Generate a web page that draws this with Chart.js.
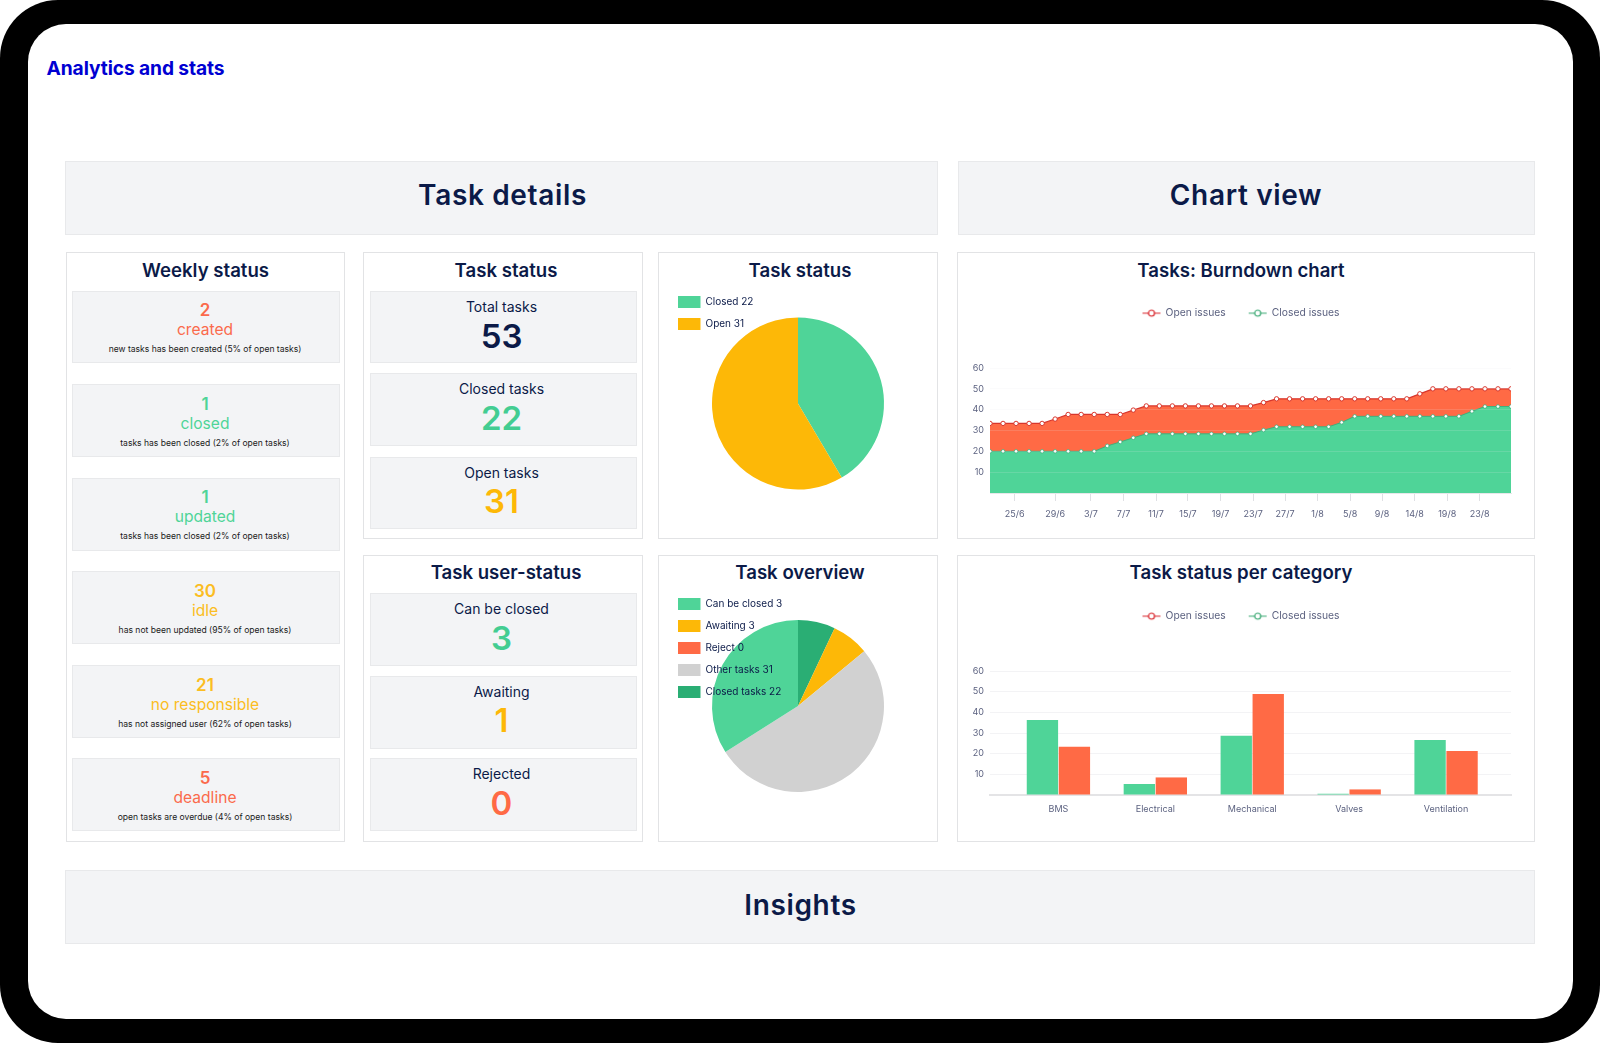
<!DOCTYPE html>
<html><head><meta charset="utf-8">
<script src="https://cdn.jsdelivr.net/npm/chart.js@4"></script>
<style>
html,body{margin:0;padding:0;background:#fff;width:1600px;height:1043px;overflow:hidden}
#frame{position:absolute;left:0;top:0;width:1600px;height:1043px;background:#000;border-radius:58px}
#screen{position:absolute;left:27.5px;top:24px;width:1545px;height:995px;background:#fff;border-radius:38px}
.box{position:absolute;box-sizing:border-box}
.bar{background:#f3f4f6;border:1px solid #e8e9eb}
.panel{background:#fff;border:1.5px solid #e2e3e5}
.card{background:#f3f4f6;border:1px solid #e8e9eb}
.t{position:absolute;white-space:nowrap;transform:translate(-50%,-50%);font-family:Inter,sans-serif;line-height:1}
canvas{position:absolute}
</style></head><body>
<div id="frame"></div><div id="screen"></div>
<div id="root"></div>
<script>
// ---- data ----
const pageTitle = "Analytics and stats";
const sectionTitles = ["Task details", "Chart view", "Insights"];
const weeklyNumbers = ["2", "1", "1", "30", "21", "5"];
const weeklyWords = ["created", "closed", "updated", "idle", "no responsible", "deadline"];
const weeklyNotes = [
  "new tasks has been created (5% of open tasks)",
  "tasks has been closed (2% of open tasks)",
  "tasks has been closed (2% of open tasks)",
  "has not been updated (95% of open tasks)",
  "has not assigned user (62% of open tasks)",
  "open tasks are overdue (4% of open tasks)"];
const statusLabels = ["Total tasks", "Closed tasks", "Open tasks"];
const statusNumbers = ["53", "22", "31"];
const userLabels = ["Can be closed", "Awaiting", "Rejected"];
const userNumbers = ["3", "1", "0"];

const pie1Labels = ["Closed 22", "Open 31"];
const pie1Values = [22, 31];
const pie2Labels = ["Closed tasks 22", "Awaiting 3", "Reject 0", "Other tasks 31", "Can be closed 3"];
const pie2Values = [7, 7, 0, 52, 34];
const pie2LegendOrder = ["Can be closed 3", "Awaiting 3", "Reject 0", "Other tasks 31", "Closed tasks 22"];

const burnOpen = [33.4,33.4,33.4,33.4,33.4,35.5,37.7,37.7,37.7,37.7,37.7,39.8,41.8,41.8,41.8,41.8,41.8,41.8,41.8,41.8,41.8,43.4,45.2,45.2,45.2,45.2,45.2,45.2,45.2,45.2,45.2,45.2,45.2,47.6,50,50,50,50,50,50,50];
const burnClosed = [20,20,20,20,20,20,20,20,20,22.6,24.5,26.5,28.4,28.4,28.4,28.4,28.4,28.4,28.4,28.4,28.4,30.2,31.8,31.8,31.8,31.8,31.8,33.9,36.8,36.8,36.8,36.8,36.8,36.8,36.8,36.8,36.8,39.2,41.5,41.5,41.5];
const burnTickLabels = ["25/6","29/6","3/7","7/7","11/7","15/7","19/7","23/7","27/7","1/8","5/8","9/8","14/8","19/8","23/8"];
const burnTickSteps = [1.9,5,7.75,10.25,12.75,15.2,17.7,20.2,22.65,25.15,27.65,30.1,32.6,35.1,37.6];

const categories = ["BMS","Electrical","Mechanical","Valves","Ventilation"];
const catClosed = [36.3,5.3,28.7,0.6,26.6];
const catOpen = [23.4,8.5,48.9,2.7,21.3];

// ---- colours ----
const GREEN="#4fd498", RED="#ff6a45", YEL="#fdb807", GRAY="#d1d1d1", DKG="#2aae74", NAVY="#0b1a48", AXIS="#5c6280";
const weeklyColors=["#fb6a4c",GREEN,GREEN,"#fbbd22","#fbbd22","#fb6a4c"];
const root=document.getElementById("root");
function box(cls,x,y,x2,y2){const d=document.createElement("div");d.className="box "+cls;d.style.cssText=`left:${x}px;top:${y}px;width:${x2-x}px;height:${y2-y}px`;root.appendChild(d);return d;}
function txt(s,cx,cy,size,weight,color,ls){const d=document.createElement("div");d.className="t";d.textContent=s;d.style.cssText=`left:${cx}px;top:${cy}px;font-size:${size}px;font-weight:${weight};color:${color};letter-spacing:${ls||0}px`;root.appendChild(d);return d;}

// header + section bars
txt(pageTitle,135.5,69,19.2,700,"#0000d2",-0.1);
box("bar",65,160.5,938,234.5); txt(sectionTitles[0],502.5,194.5,28,600,NAVY,0.65);
box("bar",958,160.5,1535,234.5); txt(sectionTitles[1],1246,194.5,28,600,NAVY,0.65);
box("bar",65,870,1535,943.5); txt(sectionTitles[2],800.5,904.5,28,600,NAVY,0.65);

// panels
box("panel",65.5,252,345,842); txt("Weekly status",205.5,269.5,18.6,600,NAVY);
box("panel",363,252,643,539); txt("Task status",506,269.5,18.6,600,NAVY);
box("panel",363,555,643,842); txt("Task user-status",506,572,18.6,600,NAVY);
box("panel",658,252,938,539); txt("Task status",800,269.5,18.6,600,NAVY);
box("panel",658,555,938,842); txt("Task overview",800,572,18.6,600,NAVY);
box("panel",957,252,1535,539); txt("Tasks: Burndown chart",1241,269.5,18.6,600,NAVY);
box("panel",957,555,1535,842); txt("Task status per category",1241,572,18.6,600,NAVY);

// weekly cards
[[290.5,363],[384,456.5],[477.5,550.5],[571,644],[665,737.5],[758,831]].forEach((r,i)=>{
  box("card",72,r[0],340,r[1]);
  const c=r[0];
  txt(weeklyNumbers[i],205,c+19.7,17,600,weeklyColors[i]);
  txt(weeklyWords[i],205,c+39.5,15.6,400,weeklyColors[i]);
  txt(weeklyNotes[i],205,c+58.7,8.55,400,"#1a1a1a");
});
// status cards
const numCol=[NAVY,"#43cd92",YEL];
[[291,363],[373,446],[456.5,528.5]].forEach((r,i)=>{
  box("card",369.5,r[0],637,r[1]);
  txt(statusLabels[i],501.5,r[0]+16,14,400,NAVY);
  txt(statusNumbers[i],501.5,r[0]+44.5,33,600,numCol[i]);
});
const numCol2=["#43cd92",YEL,RED];
[[593,665.5],[675.5,748.5],[758,831]].forEach((r,i)=>{
  box("card",369.5,r[0],637,r[1]);
  txt(userLabels[i],501.5,r[0]+16,14,400,NAVY);
  txt(userNumbers[i],501.5,r[0]+44.5,33,600,numCol2[i]);
});

function addCanvas(x,y,w,h){const c=document.createElement("canvas");c.width=w;c.height=h;c.style.cssText=`left:${x}px;top:${y}px;width:${w}px;height:${h}px`;root.appendChild(c);return c;}
Chart.defaults.font.family="Inter, sans-serif";
Chart.defaults.animation=false;
Chart.defaults.responsive=false;
Chart.defaults.devicePixelRatio=1;

// legend drawn above the slices, and with fixed reserved height
const legendOnTop={id:"legendOnTop",beforeInit(ch){const l=ch.legend;l._layers=()=>[{z:10,draw(a){l.draw(a)}}];}};
function fixedLegend(hgt){return {id:"fixedLegend",beforeInit(ch){const l=ch.legend,f=l.fit;l.fit=function(){f.call(l);l.height=hgt;};}};}

function pie(x,y,w,h,labels,values,colors,order){
  new Chart(addCanvas(x,y,w,h),{type:"pie",plugins:[legendOnTop],
    data:{labels,datasets:[{data:values,backgroundColor:colors,borderWidth:0,radius:86}]},
    options:{layout:{padding:{left:10,right:10,top:0,bottom:0}},
      plugins:{tooltip:{enabled:false},legend:{position:"chartArea",align:"start",
        labels:{boxWidth:22.5,boxHeight:12,padding:10,color:NAVY,font:{size:10},
          sort:order?((a,b)=>order.indexOf(a.text)-order.indexOf(b.text)):undefined}}}}});
}
pie(658,285.5,280,235,pie1Labels,pie1Values,[GREEN,YEL]);
pie(658,587.5,280,236,pie2Labels,pie2Values,[DKG,YEL,RED,GRAY,GREEN],pie2LegendOrder);

function marker(col){const c=document.createElement("canvas");c.width=20;c.height=10;const g=c.getContext("2d");
  g.strokeStyle=col;g.lineWidth=1;g.beginPath();g.moveTo(1,5);g.lineTo(19,5);g.stroke();
  g.fillStyle="#fff";g.beginPath();g.arc(10,5,3,0,7);g.fill();g.lineWidth=1.2;g.stroke();return c;}
const legendNames=["Open issues","Closed issues"];
const legendCfg={labels:{usePointStyle:true,pointStyleWidth:18,padding:23,color:AXIS,font:{size:10.3},
  generateLabels(ch){return Chart.defaults.plugins.legend.labels.generateLabels(ch).map(it=>({...it,pointStyle:marker(it.text==="Open issues"?"#d8262c":"#3aa873")}));},
  sort:(a,b)=>legendNames.indexOf(a.text)-legendNames.indexOf(b.text)}};
const yTicks={color:AXIS,font:{size:9},padding:6,callback:v=>v===0?"":v,stepSize:10};

// burndown
new Chart(addCanvas(971,285,564,254),{type:"line",plugins:[fixedLegend(83)],
  data:{datasets:[
    {label:"Open issues",order:2,data:burnOpen.map((v,i)=>({x:i,y:v})),borderColor:"#d8362c",borderWidth:1.2,backgroundColor:RED,fill:"origin",tension:0,pointRadius:2.2,pointBorderWidth:1,pointBackgroundColor:"#fff",pointBorderColor:"#d8362c"},
    {label:"Closed issues",order:1,data:burnClosed.map((v,i)=>({x:i,y:v})),borderColor:"#3fb07d",borderWidth:1,backgroundColor:GREEN,fill:"origin",tension:0,pointRadius:1.8,pointBorderWidth:0.8,pointBackgroundColor:"#fff",pointBorderColor:"#3fb07d"}
  ]},
  options:{layout:{padding:{right:24}},
    plugins:{tooltip:{enabled:false},legend:legendCfg},
    scales:{
      x:{type:"linear",min:0,max:burnOpen.length-1,
        afterBuildTicks(s){s.ticks=burnTickSteps.map(v=>({value:v}));},
        afterFit(s){s.height=46;},
        grid:{drawOnChartArea:false,tickLength:8,tickColor:"#dfe0e4"},border:{color:"#e8e8ea"},
        ticks:{autoSkip:false,maxRotation:0,color:AXIS,font:{size:9},padding:8,
          callback(v){return burnTickLabels[burnTickSteps.indexOf(v)];}}},
      y:{min:0,max:60,afterFit(s){s.width=19;},
        grid:{color:"rgba(228,230,234,0.16)",z:1,drawTicks:false},border:{display:false},ticks:yTicks}
    }}});

// per category
new Chart(addCanvas(971,588,564,254),{type:"bar",plugins:[fixedLegend(83)],
  data:{datasets:[
    {label:"Closed issues",data:catClosed.map((v,i)=>({x:i,y:v})),backgroundColor:GREEN,categoryPercentage:0.66,barPercentage:0.98},
    {label:"Open issues",data:catOpen.map((v,i)=>({x:i,y:v})),backgroundColor:RED,categoryPercentage:0.66,barPercentage:0.98}
  ]},
  options:{layout:{padding:{right:24}},
    plugins:{tooltip:{enabled:false},legend:legendCfg},
    scales:{
      x:{type:"linear",offset:false,min:-0.706,max:4.67,
        afterBuildTicks(s){s.ticks=categories.map((c,i)=>({value:i}));},
        afterFit(s){s.height=47;},
        grid:{display:false,offset:false},border:{color:"#e4e4e6",width:2},
        ticks:{autoSkip:false,maxRotation:0,color:AXIS,font:{size:9},padding:0.5,callback(v){return categories[v];}}},
      y:{min:0,max:60,afterFit(s){s.width=19;},
        grid:{color:"#f3f3f5",drawTicks:false},border:{display:false},ticks:yTicks}
    }}});
</script></body></html>
